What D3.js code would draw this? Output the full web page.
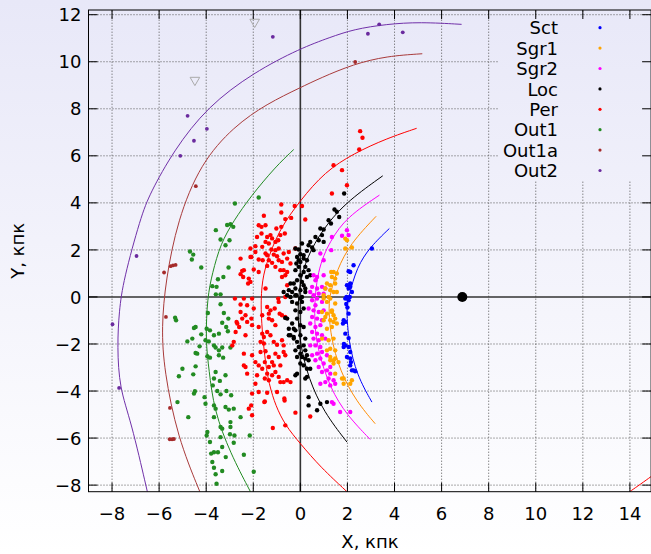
<!DOCTYPE html>
<html><head><meta charset="utf-8">
<script src="https://cdn.jsdelivr.net/npm/d3@7"></script>
<style>html,body{margin:0;padding:0;background:#fff}svg{display:block}</style>
</head><body>
<svg id="c" width="651" height="554"></svg>
<script>
// ---- data (kpc) ----
const sct = [[2.26,1.35],[2.12,1.06],[3.04,2.06],[2.05,1.09],[2.12,0.57],[1.98,0.5],[2.05,0.36],[2.12,0.43],[2.19,0.21],[1.91,-0.07],[2.05,-0.14],[1.95,-0.3],[2.05,-0.71],[1.84,-0.99],[1.91,-1.06],[1.81,-1.13],[2.0,-0.45],[1.91,-1.56],[1.91,-2.06],[2.05,-2.13],[1.84,-2.13],[1.98,-2.55],[2.12,-2.62],[2.12,-2.91],[2.26,-3.12],[2.33,-3.16],[2.19,-3.12],[2.12,-2.34],[2.15,-2.77],[2.05,-1.75],[1.85,-2.0],[1.96,0.0],[2.1,0.0]];
const sgr1 = [[1.98,2.41],[1.91,2.06],[2.19,2.1],[1.91,2.48],[1.41,1.06],[1.55,1.0],[1.31,1.06],[1.34,0.85],[1.48,0.78],[1.13,0.57],[1.27,0.5],[1.48,0.57],[1.06,0.36],[1.27,0.29],[1.41,0.21],[1.55,0.21],[0.99,0.07],[1.2,0.0],[0.99,-0.07],[1.27,-0.07],[1.13,-0.21],[1.48,-0.28],[0.92,-0.64],[1.13,-0.71],[1.34,-0.57],[1.41,-0.78],[1.34,-0.64],[0.99,-0.99],[1.27,-0.99],[1.48,-0.92],[1.06,-0.85],[1.55,-1.13],[1.41,-1.06],[1.13,-1.35],[1.34,-1.28],[0.92,-1.77],[1.2,-1.84],[1.41,-1.77],[1.27,-2.2],[1.13,-2.27],[1.48,-2.27],[1.27,-2.55],[1.41,-2.69],[1.41,-2.83],[1.62,-2.77],[1.48,-2.62],[1.48,-3.26],[1.84,-3.47],[2.12,-3.69],[2.19,-3.54],[1.84,-3.69],[1.77,-3.47],[1.27,-2.69]];
const sgr2 = [[1.98,2.84],[2.05,2.63],[1.34,2.55],[1.77,2.6],[1.31,1.99],[0.85,1.85],[0.99,1.56],[0.56,0.92],[0.71,0.85],[0.64,0.71],[0.99,0.92],[0.5,0.43],[0.71,0.36],[0.92,0.43],[1.06,0.36],[0.42,0.21],[0.56,0.07],[0.78,0.14],[0.99,0.14],[0.5,-0.14],[0.71,-0.07],[0.92,-0.21],[0.64,-0.35],[0.35,-0.49],[0.56,-0.57],[0.78,-0.64],[0.99,-0.57],[0.5,-0.85],[0.71,-0.92],[0.92,-0.99],[0.42,-1.13],[0.64,-1.28],[0.85,-1.2],[0.5,-1.49],[0.71,-1.56],[0.92,-1.63],[1.06,-1.77],[0.56,-1.77],[0.78,-1.84],[0.64,-2.06],[0.85,-2.13],[0.42,-2.06],[0.71,-2.41],[0.92,-2.34],[0.5,-2.48],[1.13,-2.48],[0.85,-2.62],[0.64,-2.69],[0.99,-2.83],[0.78,-2.98],[1.27,-2.98],[1.13,-3.12],[0.92,-3.19],[1.27,-3.26],[1.2,-3.47],[1.41,-3.54],[1.06,-3.62],[0.85,-3.69],[1.27,-3.76],[1.48,-3.69],[1.34,-4.47],[1.41,-4.54],[1.69,-4.89],[2.12,-4.89]];
const loc = [[1.86,4.4],[1.45,3.72],[1.55,3.62],[1.65,3.4],[1.2,3.26],[1.3,3.12],[0.99,2.87],[0.85,2.91],[0.92,2.63],[0.64,2.55],[0.78,2.41],[0.42,2.34],[0.35,2.2],[0.5,2.1],[0.99,2.34],[0.07,2.27],[-0.07,2.02],[0,1.82],[0.14,1.77],[0.28,1.96],[0.56,1.99],[-0.21,2.06],[-0.14,1.7],[-0.07,1.56],[-0.17,1.42],[0,1.49],[0.14,1.63],[0.28,1.56],[0.21,1.28],[0.35,1.14],[0.14,1.06],[-0.07,1.28],[-0.21,1.14],[0,0.92],[0.28,0.85],[0.42,0.92],[-0.14,0.71],[0.07,0.64],[0.14,0.5],[-0.28,0.57],[-0.21,0.36],[0,0.29],[0.21,0.21],[-0.35,0.21],[-0.17,0.07],[0.07,0],[-0.71,0.21],[-0.56,0.07],[-0.42,0.57],[-0.49,0.29],[0.21,0.36],[-0.42,0],[-0.21,0.07],[0,-0.07],[-0.35,-0.21],[-0.14,-0.28],[0.07,-0.21],[-0.64,-0.89],[-0.21,-0.57],[0,-0.64],[0.14,-0.49],[-0.14,-0.92],[-0.35,-1.13],[0,-1.2],[0.14,-1.28],[-0.49,-1.35],[-0.21,-1.42],[-0.42,-1.63],[-0.28,-1.7],[0,-1.63],[-0.14,-1.91],[-0.07,-2.13],[-0.21,-2.27],[0.14,-2.06],[0.21,-2.27],[0,-2.41],[0.07,-2.55],[-0.14,-2.55],[0.21,-2.62],[0.35,-2.69],[0,-2.83],[0.14,-2.91],[0.28,-3.05],[0.42,-3.05],[-0.21,-3.33],[0.21,-3.47],[0.28,-3.4],[-0.14,-3.26],[0.35,-4.26],[0.35,-4.61],[0.71,-4.82],[0.85,-4.54],[1.13,-4.47],[-0.56,-0.92],[-0.28,-1.35],[-0.49,-1.63],[-0.28,-1.77],[0.21,-1.77],[0.28,-2.48]];
const per = [[-0.81,3.93],[-0.24,3.87],[0.07,3.87],[-0.81,3.59],[-1.55,3.45],[-0.64,3.31],[-0.39,3.36],[0.21,3.29],[-1.77,3.05],[-1.65,2.98],[-1.48,3.05],[-1.02,2.91],[-0.81,2.98],[-1.65,2.7],[-1.27,2.63],[-1.41,2.55],[-1.2,2.49],[-1.84,2.55],[-0.85,2.63],[-0.66,2.7],[-1.06,2.34],[-0.94,2.41],[-1.48,2.34],[-1.34,2.27],[-1.91,2.16],[-1.62,2.13],[-1.23,2.02],[-1.06,1.99],[-0.92,2.06],[-1.91,1.91],[-1.48,1.85],[-1.41,1.77],[-1.13,1.8],[-0.99,1.73],[-0.71,1.85],[-0.49,1.91],[-0.21,2.06],[-2.08,1.7],[-1.77,1.59],[-1.6,1.56],[-1.34,1.56],[-1.2,1.45],[-0.92,1.56],[-0.78,1.49],[-0.56,1.63],[-0.42,1.42],[-1.41,1.32],[-1.06,1.28],[-2.4,1.14],[-1.98,1.17],[-2.12,2.06],[-2.54,1.63],[-2.47,1.11],[-2.54,0.97],[-2.19,0.78],[-0.64,0.92],[-2.12,1.7],[-2.43,0.85],[-2.12,0.64],[-2.22,0.57],[-1.77,1.06],[-0.71,1.14],[-0.56,1.06],[-0.78,0.85],[-1.48,0.36],[-0.56,0.5],[-2.78,-0.07],[-2.4,-0.07],[-2.05,-0.07],[-0.94,-0.07],[-0.64,0],[-2.54,-0.32],[-2.26,-0.35],[-1.98,-0.49],[-1.41,-0.43],[-1.27,-0.57],[-1.34,-0.71],[-1.09,-0.49],[-0.92,-0.21],[-2.54,-0.64],[-2.33,-0.78],[-1.62,-0.78],[-2.47,-0.92],[-2.26,-1.06],[-2.08,-0.92],[-1.34,-0.92],[-1.2,-0.99],[-0.64,-0.85],[-0.88,-0.71],[-2.68,-1.13],[-2.6,-1.28],[-2.05,-1.2],[-1.77,-1.28],[-1.06,-1.2],[-1.41,-1.49],[-1.27,-1.63],[-1.62,-1.56],[-1.55,-1.7],[-1.69,-1.91],[-1.55,-1.98],[-2.33,-1.63],[-2.75,-1.49],[-1.13,-1.91],[-0.99,-2.03],[-0.78,-1.84],[-0.71,-2.06],[-2.4,-2.41],[-2.05,-2.48],[-1.69,-2.34],[-1.48,-2.31],[-1.34,-2.55],[-1.51,-2.77],[-1.06,-2.41],[-0.92,-2.55],[-0.71,-2.34],[-1.91,-2.77],[-1.2,-2.77],[-1.77,-2.91],[-1.62,-3.05],[-1.34,-2.98],[-1.13,-2.91],[-0.85,-2.91],[-2.33,-2.98],[-2.26,-3.26],[-1.84,-3.33],[-1.41,-3.26],[-1.2,-3.33],[-1.06,-3.19],[-1.51,-3.47],[-1.34,-3.54],[-0.92,-3.4],[-0.85,-3.62],[-0.56,-3.54],[-0.42,-3.62],[-1.91,-3.69],[-1.77,-4.04],[-1.41,-4.07],[-0.99,-4.04],[-2.05,-4.11],[-1.51,-4.44],[-0.67,-4.4],[-2.09,-4.61],[-1.53,-4.47],[-0.21,-4.92],[-1.17,-5.57],[-0.64,-5.46],[0.42,-5.08],[-2.19,-4.75],[-2.05,-5.03],[1.41,5.6],[1.77,5.39],[1.98,4.75],[1.34,4.4],[2.54,7.05],[2.64,6.77],[2.5,6.27],[-0.78,-0.78],[-0.64,-2.48],[-0.71,-3.62],[-0.68,-4.32],[-2.83,-1.91],[-2.89,-2.06],[-2.71,-1.06],[-2.4,-2.91],[-0.85,1.14]];
const out1 = [[-2.78,3.97],[-3.11,3.06],[-2.97,3.09],[-2.85,2.98],[-3.59,2.84],[-3.39,2.44],[-3.01,2.41],[-3.18,2.2],[-4.69,1.93],[-4.55,1.8],[-4.61,1.59],[-4.21,1.25],[-3.05,1.25],[-3.27,0.85],[-3.5,0.75],[-3.74,0.46],[-3.56,0.43],[-3.59,0.11],[-3.39,0.11],[-3.39,-0.31],[-3.93,-0.68],[-3.25,-0.68],[-3.06,-0.92],[-5.32,-0.88],[-5.28,-0.99],[-3.32,-1.1],[-3.15,-1.28],[-3.08,-1.46],[-4.45,-1.28],[-4.52,-1.32],[-3.98,-1.35],[-3.84,-1.42],[-4.21,-1.59],[-3.46,-1.56],[-1.77,4.23],[-3.67,-1.63],[-4.59,-1.77],[-4.8,-1.89],[-4.03,-1.84],[-3.89,-1.89],[-4.28,-2.1],[-3.67,-2.06],[-3.6,-2.15],[-3.46,-2.27],[-3.32,-2.15],[-2.97,-2.15],[-4.45,-2.38],[-4.38,-2.41],[-3.95,-2.52],[-3.84,-2.58],[-3.46,-2.48],[-3.28,-2.58],[-4.45,-2.95],[-5.01,-3.05],[-5.16,-3.37],[-4.55,-3.29],[-3.6,-3.19],[-3.18,-3.33],[-3.67,-3.47],[-3.42,-3.57],[-3.72,-3.76],[-4.48,-4.01],[-4.52,-4.11],[-4.07,-4.26],[-3.53,-4.0],[-3.39,-4.14],[-3.14,-4.0],[-2.94,-4.18],[-5.22,-4.47],[-4.03,-4.54],[-3.67,-4.61],[-3.6,-4.75],[-3.18,-4.68],[-3.04,-4.79],[-2.83,-4.75],[-4.76,-5.11],[-2.54,-5.11],[-3.67,-5.11],[-2.97,-5.32],[-3.39,-5.53],[-3.32,-5.6],[-2.97,-5.53],[-3.95,-5.74],[-3.98,-5.89],[-2.99,-5.84],[-2.8,-5.89],[-3.39,-5.96],[-2.15,-5.89],[-3.84,-6.17],[-3.32,-6.38],[-3.67,-6.6],[-3.79,-6.66],[-3.5,-6.6],[-3.17,-6.81],[-2.4,-6.71],[-3.74,-7.02],[-3.67,-7.26],[-3.32,-7.4],[-3.6,-7.54],[-1.98,-7.43],[-3.56,-7.94],[-2.83,-6.2]];
const out1a = [[2.33,9.99],[-4.44,4.71],[-5.79,1.04],[-5.51,1.31],[-5.41,1.34],[-5.3,1.36],[-5.71,-0.85],[-5.54,-4.72],[-5.55,-6.05],[-5.45,-6.05],[-5.37,-6.04]];
const out2 = [[-1.17,11.06],[-4.79,7.7],[-4.52,6.64],[-3.97,7.15],[-5.1,6.0],[-6.96,1.74],[-7.98,-1.16],[-7.7,-3.87],[3.35,11.59],[2.87,11.19],[4.35,11.25]];
const extra = [[-4.48,9.22],[-1.94,11.69]];
const center = [[6.88,0]];

// arm model curves
const sctArm = [[3.04,-4.47],[2.4,-3.33],[2.05,-1.91],[1.95,-0.49],[2.05,0],[2.4,1.28],[2.97,2.13],[3.78,2.91]];
const sgr1Arm = [[3.18,-5.39],[2.4,-4.47],[1.69,-3.19],[1.27,-1.63],[1.2,-0.35],[1.27,0.14],[1.55,1.14],[2.12,2.27],[3.22,3.43]];
const sgr2Arm = [[2.97,-6.06],[1.98,-5.03],[1.27,-3.9],[0.71,-2.2],[0.56,-0.78],[0.71,1.14],[1.27,2.41],[1.98,3.4],[3.36,4.33]];
const locArm = [[1.98,-6.17],[0.99,-4.89],[0.35,-3.47],[0,-2.06],[-0.14,-0.64],[0,0.85],[0.42,1.99],[1.13,3.12],[2.05,4.11],[3.5,5.15]];
const perArm = [[1.98,-8.28],[0.85,-7.23],[0,-6.24],[-0.65,-5.45],[-1.06,-4.6],[-1.3,-3.8],[-1.48,-2.91],[-1.69,-0.78],[-1.65,0.5],[-1.48,1.35],[-0.92,2.84],[0,4.11],[1.04,5.32],[2.26,6.1],[3.67,6.74],[4.94,7.17]];
const perArmFar = [[13.99,-8.28],[14.45,-7.96],[14.95,-7.6]];
const out1Arm = [[-2.12,-8.28],[-2.97,-6.66],[-3.67,-4.82],[-3.88,-3.1],[-4.03,-1.84],[-3.95,0],[-3.74,1.0],[-3.39,2.27],[-2.82,3.26],[-2.12,4.26],[-1.06,5.53],[-0.28,6.27]];
const out1aArm = [[-4.27,-8.28],[-5.22,-5.96],[-5.79,-3.12],[-5.9,-1.28],[-5.72,0.71],[-5.22,3.26],[-4.24,5.68],[-2.83,7.25],[-1.41,8.22],[0,8.9],[0.83,9.3],[2.26,9.9],[3.67,10.24],[5.18,10.34]];
const out2Arm = [[-6.5,-8.28],[-7.2,-5.25],[-7.68,-3.9],[-7.78,-2.1],[-7.7,-0.6],[-7.52,0.71],[-6.78,3.4],[-6.39,4.4],[-5.37,6.24],[-3.95,8.09],[-1.98,9.55],[0,10.57],[1.27,11.04],[2.26,11.38],[3.67,11.6],[5.08,11.69],[6.85,11.59]];

const seriesNames = ["Sct","Sgr1","Sgr2","Loc","Per","Out1","Out1a","Out2"];
const seriesColors = ["#0000ff","#ffa500","#ff00ff","#000000","#ff0000","#228b22","#a52a2a","#6a2a9e"];
const armColors = ["#0000ff","#ff8c00","#ff00ff","#000000","#ff0000","#228b22","#a83a3a","#7030a8"];
const xTicks = [-8,-6,-4,-2,0,2,4,6,8,10,12,14];
const yTicks = [-8,-6,-4,-2,0,2,4,6,8,10,12];
const xLabel = "X, кпк", yLabel = "Y, кпк";

// ---- drawing ----
const svg = d3.select("#c");
const W = 651, H = 554;
const L = 88.5, R = 651.1, T = 10, B = 491.7;
const x = d3.scaleLinear().domain([-9, 14.9]).range([L, R]);
const y = d3.scaleLinear().domain([-8.28, 12.2]).range([B, T]);

const defs = svg.append("defs");
const g = defs.append("linearGradient").attr("id","bg").attr("gradientUnits","userSpaceOnUse")
  .attr("x1",0).attr("y1",0).attr("x2",0).attr("y2",H);
g.append("stop").attr("offset","0").attr("stop-color","#e8e8f8");
g.append("stop").attr("offset","1").attr("stop-color","#ffffff");
defs.append("clipPath").attr("id","clip").append("rect").attr("x",L).attr("y",T).attr("width",R-L).attr("height",B-T);

svg.append("rect").attr("width",W).attr("height",H).attr("fill","url(#bg)");

// grid
const grid = svg.append("g").attr("stroke","#555").attr("stroke-width",1).attr("stroke-dasharray","1,2");
grid.selectAll("line.v").data(xTicks.filter(d=>d!==0)).join("line")
  .attr("x1",d=>x(d)).attr("x2",d=>x(d)).attr("y1",B).attr("y2",T);
grid.selectAll("line.h").data(yTicks.filter(d=>d!==0)).join("line").attr("class","h")
  .attr("x1",L).attr("x2",R).attr("y1",d=>y(d)).attr("y2",d=>y(d));

// legend box (opaque)
svg.append("rect").attr("x",498).attr("y",17).attr("width",R-498).attr("height",164).attr("fill","url(#bg)");

// zero axes
svg.append("line").attr("x1",x(0)).attr("x2",x(0)).attr("y1",B).attr("y2",T).attr("stroke","#333").attr("stroke-width",1.6);
svg.append("line").attr("x1",L).attr("x2",R).attr("y1",y(0)).attr("y2",y(0)).attr("stroke","#333").attr("stroke-width",1.6);

// arms
const plot = svg.append("g").attr("clip-path","url(#clip)");
const line = d3.line().x(d=>x(d[0])).y(d=>y(d[1])).curve(d3.curveBasis);
const arms = [sctArm,sgr1Arm,sgr2Arm,locArm,perArm,out1Arm,out1aArm,out2Arm];
arms.forEach((a,i)=>{
  plot.append("path").attr("d",line(a)).attr("fill","none").attr("stroke",armColors[i]).attr("stroke-width",1);
});
plot.append("path").attr("d",line(perArmFar)).attr("fill","none").attr("stroke","#ff0000").attr("stroke-width",1);

// points
const sets = [sct,sgr1,sgr2,loc,per,out1,out1a,out2];
const drawOrder = [7,6,5,4,3,2,1,0];
drawOrder.forEach(i=>{
  plot.append("g").selectAll("circle").data(sets[i]).join("circle")
    .attr("cx",d=>x(d[0])).attr("cy",d=>y(d[1])).attr("r", i>=6 ? 1.9 : 2.2).attr("fill",seriesColors[i]);
});
// hollow triangles
const tri = d3.symbol().type(d3.symbolTriangle).size(40);
plot.append("g").selectAll("path").data(extra).join("path")
  .attr("d",tri).attr("transform",d=>`translate(${x(d[0])},${y(d[1])}) rotate(180)`)
  .attr("fill","none").attr("stroke","#aaaaaa").attr("stroke-width",1);
// centre
plot.append("g").selectAll("circle").data(center).join("circle")
  .attr("cx",d=>x(d[0])).attr("cy",d=>y(d[1])).attr("r",5).attr("fill","#000");

// border & ticks
svg.append("rect").attr("x",L).attr("y",T).attr("width",R-L).attr("height",B-T).attr("fill","none").attr("stroke","#000").attr("stroke-width",1);
const tk = 9;
const ticks = svg.append("g").attr("stroke","#000").attr("stroke-width",1);
xTicks.forEach(v=>{
  ticks.append("line").attr("x1",x(v)).attr("x2",x(v)).attr("y1",B).attr("y2",B-tk);
  ticks.append("line").attr("x1",x(v)).attr("x2",x(v)).attr("y1",T).attr("y2",T+tk);
});
yTicks.forEach(v=>{
  ticks.append("line").attr("x1",L).attr("x2",L+tk).attr("y1",y(v)).attr("y2",y(v));
  ticks.append("line").attr("x1",R).attr("x2",R-tk).attr("y1",y(v)).attr("y2",y(v));
});

const font = "DejaVu Sans, sans-serif";
const fmt = v => v < 0 ? "\u2212" + Math.abs(v) : String(v);
svg.append("g").selectAll("text").data(xTicks).join("text")
  .attr("x",d=>x(d)).attr("y",520).attr("text-anchor","middle")
  .attr("font-family",font).attr("font-size",18).attr("fill","#000").text(fmt);
svg.append("g").selectAll("text").data(yTicks).join("text")
  .attr("x",81.5).attr("y",d=>y(d)+6.6).attr("text-anchor","end")
  .attr("font-family",font).attr("font-size",18).attr("fill","#000").text(fmt);

svg.append("text").attr("x",370).attr("y",548).attr("text-anchor","middle")
  .attr("font-family",font).attr("font-size",18).text(xLabel);
svg.append("text").attr("transform",`translate(24,${(T+B)/2}) rotate(-90)`).attr("text-anchor","middle")
  .attr("font-family",font).attr("font-size",18).text(yLabel);

// legend
const lg = svg.append("g");
seriesNames.forEach((n,i)=>{
  const cy = 27.7 + i*20.4;
  lg.append("text").attr("x",558).attr("y",cy+6.6).attr("text-anchor","end")
    .attr("font-family",font).attr("font-size",18).text(n);
  lg.append("circle").attr("cx",600).attr("cy",cy).attr("r",1.6).attr("fill",seriesColors[i]);
});
</script>
</body></html>
